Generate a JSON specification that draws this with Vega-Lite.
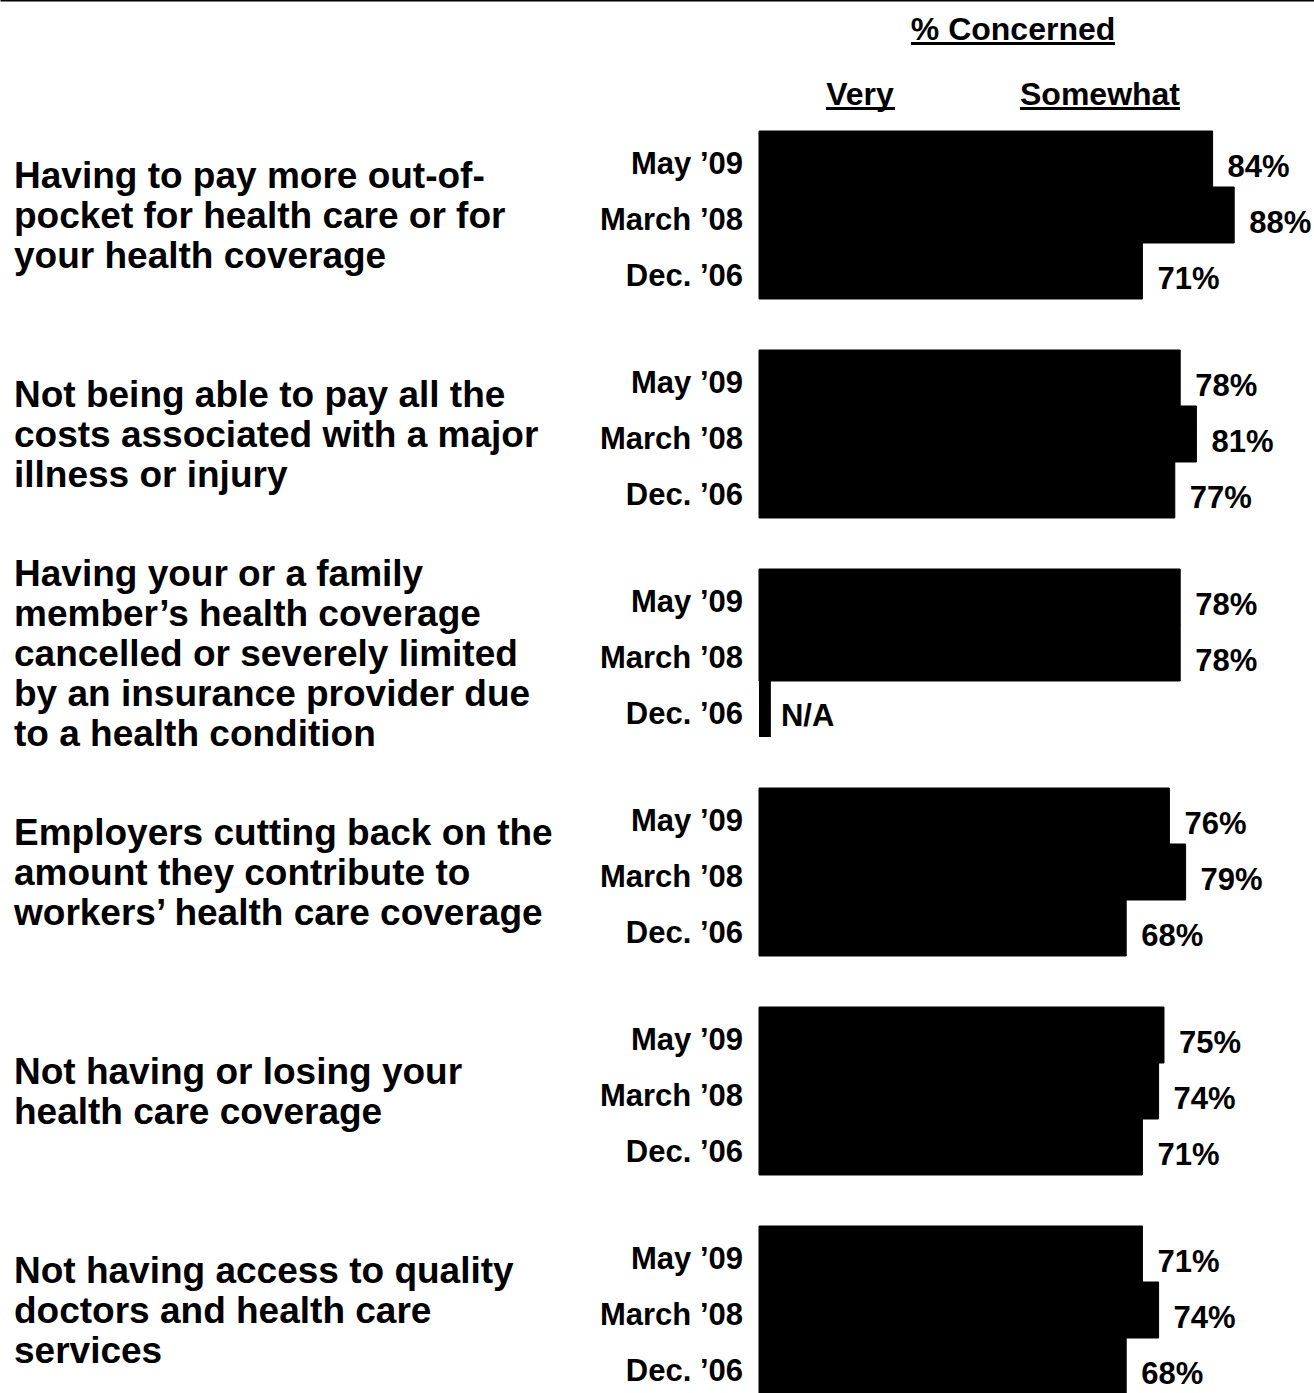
{
  "$schema": "https://vega.github.io/schema/vega-lite/v6.json",
  "padding": 0,
  "spacing": 0,
  "background": "white",
  "config": {
    "view": {"stroke": null},
    "font": "Liberation Sans",
    "text": {"font": "Liberation Sans", "fontWeight": "bold", "color": "black"}
  },
  "vconcat": [
    {
      "width": 1314,
      "height": 130,
      "data": {"values": [
        {"line": "top", "t": "% Concerned"},
        {"line": "sub", "t": "Very"},
        {"line": "sub", "t": "Somewhat"}
      ]},
      "encoding": {
        "y": {"field": "line", "type": "nominal", "sort": ["top", "sub"], "axis": null,
              "scale": {"paddingInner": 0, "paddingOuter": 0}}
      },
      "layer": [
        {
          "mark": {"type": "rule", "color": "black", "strokeWidth": 2},
          "transform": [{"filter": "datum.t === '% Concerned'"}],
          "encoding": {
            "x": {"datum": -1.40556, "type": "quantitative",
                  "scale": {"domain": [-1.40556, 1.02778], "nice": false, "zero": false},
                  "axis": {"orient": "top", "domain": true, "domainColor": "black", "domainWidth": 2,
                           "ticks": false, "labels": false, "grid": false, "title": null}},
            "x2": {"datum": 1.02778},
            "y": {"field": "line", "type": "nominal", "bandPosition": 0.7},
            "opacity": {"value": 0}
          }
        },
        {
          "mark": {"type": "text", "fontSize": 32, "baseline": "middle", "align": "center"},
          "transform": [{"filter": "datum.t === '% Concerned'"}],
          "encoding": {"x": {"datum": 0.4704}, "text": {"field": "t"},
                       "y": {"field": "line", "type": "nominal", "bandPosition": 0.46}}
        },
        {
          "mark": {"type": "text", "fontSize": 32, "baseline": "middle", "align": "center"},
          "transform": [{"filter": "datum.t === 'Very'"}],
          "encoding": {"x": {"datum": 0.187}, "text": {"field": "t"},
                       "y": {"field": "line", "type": "nominal", "bandPosition": 0.46}}
        },
        {
          "mark": {"type": "text", "fontSize": 32, "baseline": "middle", "align": "center"},
          "transform": [{"filter": "datum.t === 'Somewhat'"}],
          "encoding": {"x": {"datum": 0.6315}, "text": {"field": "t"},
                       "y": {"field": "line", "type": "nominal", "bandPosition": 0.46}}
        },
        {
          "mark": {"type": "rule", "color": "black", "strokeWidth": 3},
          "transform": [{"filter": "datum.t === '% Concerned'"}],
          "encoding": {"x": {"datum": 0.2815}, "x2": {"datum": 0.6593},
                       "y": {"field": "line", "type": "nominal", "bandPosition": 0.67}}
        },
        {
          "mark": {"type": "rule", "color": "black", "strokeWidth": 3},
          "transform": [{"filter": "datum.t === 'Very'"}],
          "encoding": {"x": {"datum": 0.124}, "x2": {"datum": 0.252},
                       "y": {"field": "line", "type": "nominal", "bandPosition": 0.67}}
        },
        {
          "mark": {"type": "rule", "color": "black", "strokeWidth": 3},
          "transform": [{"filter": "datum.t === 'Somewhat'"}],
          "encoding": {"x": {"datum": 0.4833}, "x2": {"datum": 0.7796},
                       "y": {"field": "line", "type": "nominal", "bandPosition": 0.67}}
        }
      ]
    },
    {
      "width": 1314,
      "height": 1263,
      "data": {"values": [
        {"topic": "Having to pay more out-of-\npocket for health care or for\nyour health coverage", "period": "May ’09", "v": 0.84, "label": "84%"},
        {"topic": "Having to pay more out-of-\npocket for health care or for\nyour health coverage", "period": "March ’08", "v": 0.88, "label": "88%"},
        {"topic": "Having to pay more out-of-\npocket for health care or for\nyour health coverage", "period": "Dec. ’06", "v": 0.71, "label": "71%"},
        {"topic": "Not being able to pay all the\ncosts associated with a major\nillness or injury", "period": "May ’09", "v": 0.78, "label": "78%"},
        {"topic": "Not being able to pay all the\ncosts associated with a major\nillness or injury", "period": "March ’08", "v": 0.81, "label": "81%"},
        {"topic": "Not being able to pay all the\ncosts associated with a major\nillness or injury", "period": "Dec. ’06", "v": 0.77, "label": "77%"},
        {"topic": "Having your or a family\nmember’s health coverage\ncancelled or severely limited\nby an insurance provider due\nto a health condition", "period": "May ’09", "v": 0.78, "label": "78%"},
        {"topic": "Having your or a family\nmember’s health coverage\ncancelled or severely limited\nby an insurance provider due\nto a health condition", "period": "March ’08", "v": 0.78, "label": "78%"},
        {"topic": "Having your or a family\nmember’s health coverage\ncancelled or severely limited\nby an insurance provider due\nto a health condition", "period": "Dec. ’06", "v": null, "label": "N/A"},
        {"topic": "Employers cutting back on the\namount they contribute to\nworkers’ health care coverage", "period": "May ’09", "v": 0.76, "label": "76%"},
        {"topic": "Employers cutting back on the\namount they contribute to\nworkers’ health care coverage", "period": "March ’08", "v": 0.79, "label": "79%"},
        {"topic": "Employers cutting back on the\namount they contribute to\nworkers’ health care coverage", "period": "Dec. ’06", "v": 0.68, "label": "68%"},
        {"topic": "Not having or losing your\nhealth care coverage", "period": "May ’09", "v": 0.75, "label": "75%"},
        {"topic": "Not having or losing your\nhealth care coverage", "period": "March ’08", "v": 0.74, "label": "74%"},
        {"topic": "Not having or losing your\nhealth care coverage", "period": "Dec. ’06", "v": 0.71, "label": "71%"},
        {"topic": "Not having access to quality\ndoctors and health care\nservices", "period": "May ’09", "v": 0.71, "label": "71%"},
        {"topic": "Not having access to quality\ndoctors and health care\nservices", "period": "March ’08", "v": 0.74, "label": "74%"},
        {"topic": "Not having access to quality\ndoctors and health care\nservices", "period": "Dec. ’06", "v": 0.68, "label": "68%"}
      ]},
      "encoding": {
        "y": {"field": "topic", "type": "nominal", "sort": null, "axis": null,
              "scale": {"paddingInner": 0.2329, "paddingOuter": 0}}
      },
      "layer": [
        {
          "mark": {"type": "bar", "color": "black", "stroke": "black", "strokeWidth": 1},
          "transform": [{"filter": "datum.v !== null"}],
          "encoding": {
            "x": {"field": "v", "type": "quantitative", "axis": null,
                  "scale": {"domain": [-1.40556, 1.02778], "nice": false, "zero": false}},
            "yOffset": {"field": "period", "type": "nominal", "sort": ["May ’09", "March ’08", "Dec. ’06"],
                        "scale": {"paddingInner": 0, "paddingOuter": 0}}
          }
        },
        {
          "mark": {"type": "bar", "color": "black"},
          "transform": [{"filter": "datum.v === null"}],
          "encoding": {"x": {"datum": 0}, "x2": {"datum": 0.022},
                       "yOffset": {"field": "period", "type": "nominal", "sort": ["May ’09", "March ’08", "Dec. ’06"]}}
        },
        {
          "mark": {"type": "text", "fontSize": 31, "align": "left", "baseline": "middle", "dx": 15, "dy": 9},
          "transform": [{"filter": "datum.v !== null"}],
          "encoding": {"x": {"field": "v", "type": "quantitative"}, "text": {"field": "label"},
                       "yOffset": {"field": "period", "type": "nominal", "sort": ["May ’09", "March ’08", "Dec. ’06"]}}
        },
        {
          "mark": {"type": "text", "fontSize": 31, "align": "left", "baseline": "middle", "dx": 10, "dy": 8},
          "transform": [{"filter": "datum.v === null"}],
          "encoding": {"x": {"datum": 0.022}, "text": {"field": "label"},
                       "yOffset": {"field": "period", "type": "nominal", "sort": ["May ’09", "March ’08", "Dec. ’06"]}}
        },
        {
          "mark": {"type": "text", "fontSize": 31, "align": "right", "baseline": "middle", "dx": -16, "dy": 6},
          "encoding": {"x": {"datum": 0}, "text": {"field": "period"},
                       "yOffset": {"field": "period", "type": "nominal", "sort": ["May ’09", "March ’08", "Dec. ’06"]}}
        },
        {
          "mark": {"type": "text", "fontSize": 37, "align": "left", "baseline": "middle", "lineBreak": "\n", "lineHeight": 40, "dy": -18},
          "transform": [{"filter": "datum.period === 'May ’09' && split(datum.topic, '\\n').length === 2"}],
          "encoding": {"x": {"datum": -1.37963}, "text": {"field": "topic"}}
        },
        {
          "mark": {"type": "text", "fontSize": 37, "align": "left", "baseline": "middle", "lineBreak": "\n", "lineHeight": 40, "dy": -38},
          "transform": [{"filter": "datum.period === 'May ’09' && split(datum.topic, '\\n').length === 3"}],
          "encoding": {"x": {"datum": -1.37963}, "text": {"field": "topic"}}
        },
        {
          "mark": {"type": "text", "fontSize": 37, "align": "left", "baseline": "middle", "lineBreak": "\n", "lineHeight": 40, "dy": -78},
          "transform": [{"filter": "datum.period === 'May ’09' && split(datum.topic, '\\n').length === 5"}],
          "encoding": {"x": {"datum": -1.37963}, "text": {"field": "topic"}}
        }
      ]
    }
  ]
}
